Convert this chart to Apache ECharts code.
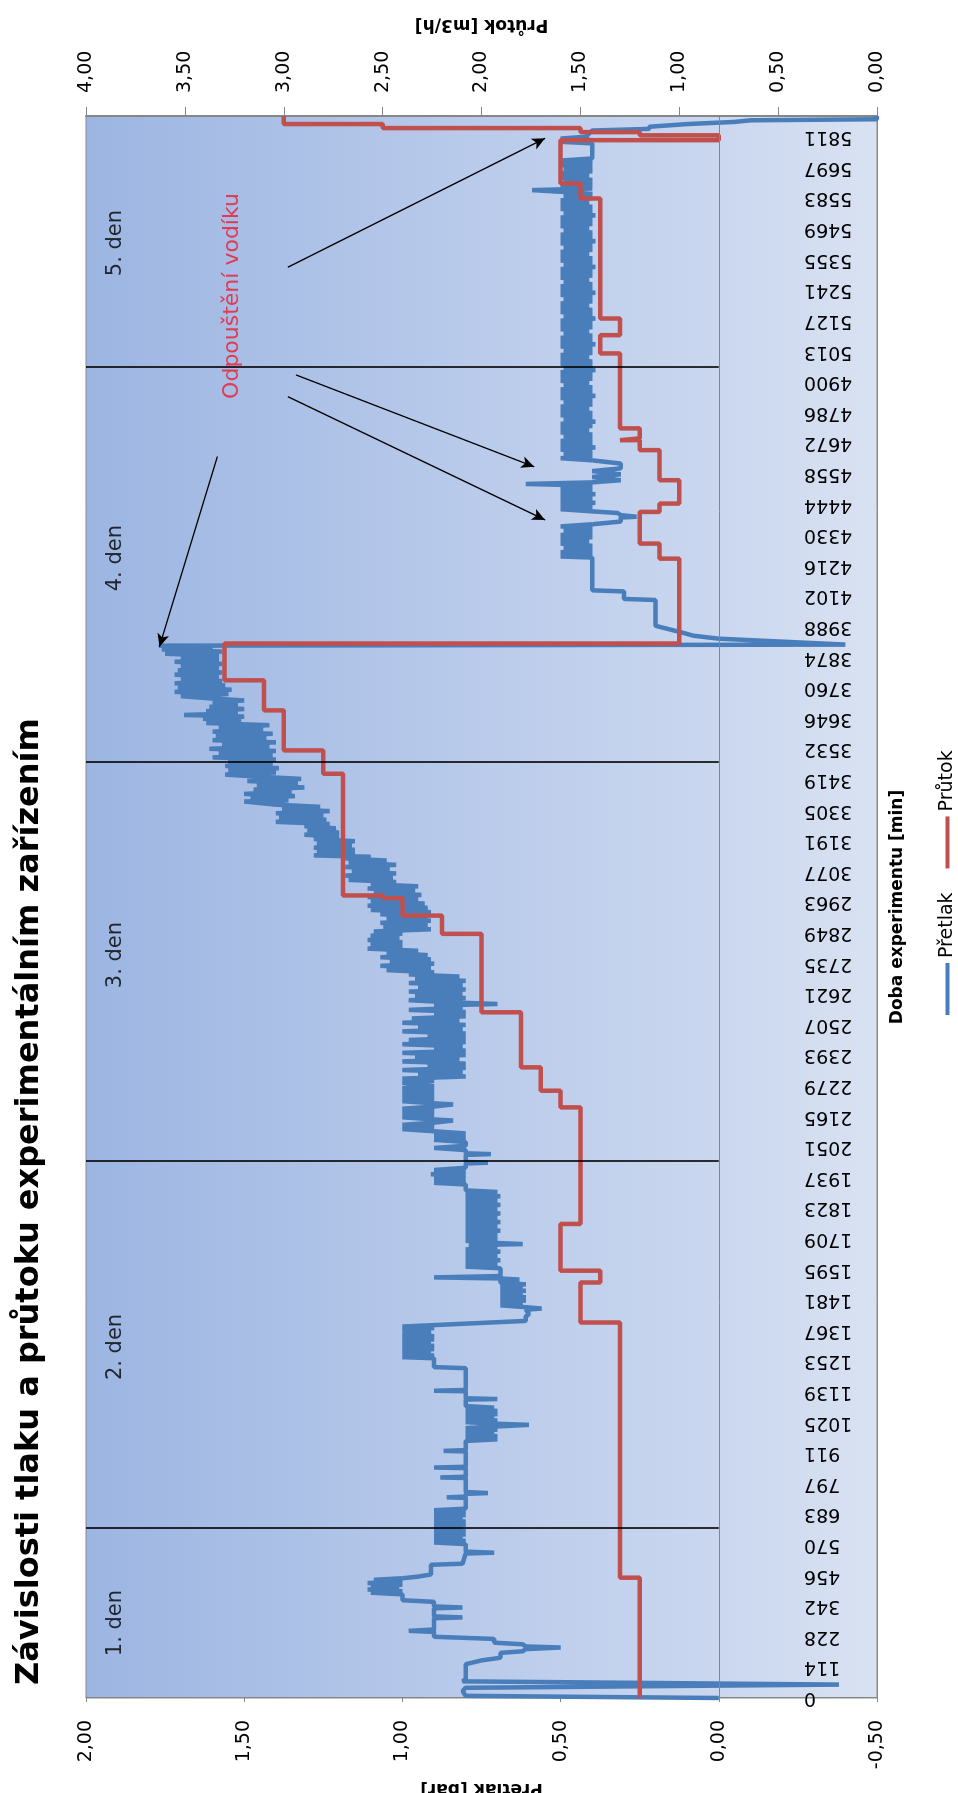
<!DOCTYPE html>
<html>
<head>
<meta charset="utf-8">
<script src="https://cdn.jsdelivr.net/npm/echarts/dist/echarts.min.js"></script>
<style>
html,body{margin:0;padding:0;background:#fff;overflow:hidden;width:958px;height:1793px;}
#chart{position:absolute;left:0;top:0;width:1793px;height:958px;transform-origin:0 0;transform:translateY(1793px) rotate(-90deg);}
</style>
</head>
<body>
<div id="chart"></div>
<script>
// ---- category tick labels (time, min) ----
const tickLabels = ['0','114','228','342','456','570','683','797','911','1025','1139','1253','1367','1481','1595','1709','1823','1937','2051','2165','2279','2393','2507','2621','2735','2849','2963','3077','3191','3305','3419','3532','3646','3760','3874','3988','4102','4216','4330','4444','4558','4672','4786','4900','5013','5127','5241','5355','5469','5583','5697','5811'];

// ---- Přetlak [bar], [time min, value] per day ----
const pretlakDay1 = [[0,0.00],[8,0.80],[26,0.81],[38,0.80],[50,-0.38],[62,0.81],[70,0.80],[126,0.80],[140,0.75],[150,0.69],[168,0.69],[174,0.62],[182,0.61],[188,0.50],[192,0.61],[200,0.62],[206,0.71],[220,0.71],[228,0.90],[246,0.90],[250,0.98],[255,0.90],[297,0.90],[300,0.81],[304,0.90],[334,0.90],[337,0.81],[341,0.90],[358,0.90],[364,1.00],[386,1.00],[392,1.10],[398,1.00],[404,1.11],[410,1.01],[416,1.10],[422,1.00],[428,1.11],[434,1.00],[440,1.09],[446,1.00],[452,0.95],[460,0.91],[496,0.91],[500,0.81],[538,0.80],[541,0.71],[545,0.80],[573,0.80],[579,0.90],[585,0.80],[591,0.90],[597,0.81],[603,0.90],[609,0.80],[615,0.90],[621,0.80],[627,0.90]];
const pretlakDay2 = [[633,0.81],[639,0.90],[645,0.80],[651,0.90],[657,0.80],[663,0.90],[669,0.81],[675,0.90],[681,0.80],[687,0.90],[693,0.80],[699,0.90],[705,0.80],[745,0.80],[747,0.86],[750,0.80],[760,0.80],[763,0.73],[767,0.80],[819,0.80],[821,0.88],[824,0.80],[856,0.80],[858,0.90],[861,0.80],[918,0.80],[920,0.87],[923,0.80],[957,0.80],[963,0.70],[969,0.80],[975,0.70],[981,0.80],[987,0.71],[993,0.80],[999,0.70],[1005,0.80],[1011,0.70],[1017,0.60],[1021,0.70],[1027,0.80],[1033,0.70],[1039,0.80],[1045,0.71],[1051,0.80],[1057,0.70],[1063,0.80],[1069,0.70],[1075,0.80],[1081,0.71],[1087,0.80],[1111,0.80],[1113,0.70],[1116,0.80],[1142,0.80],[1144,0.90],[1147,0.80],[1228,0.80],[1232,0.90],[1265,0.90],[1269,1.00],[1275,0.90],[1281,1.00],[1287,0.91],[1293,1.00],[1299,0.90],[1305,1.00],[1311,0.90],[1317,1.00],[1323,0.91],[1329,1.00],[1335,0.90],[1341,1.00],[1347,0.90],[1353,1.00],[1359,0.91],[1365,0.94],[1371,1.00],[1377,0.90],[1383,1.00],[1390,1.00],[1404,0.61],[1420,0.61],[1430,0.60],[1446,0.61],[1450,0.56],[1455,0.61],[1462,0.69],[1468,0.62],[1474,0.69],[1480,0.61],[1486,0.69],[1492,0.61],[1498,0.69],[1504,0.62],[1510,0.69],[1516,0.61],[1522,0.69],[1528,0.62],[1534,0.69],[1540,0.61],[1546,0.69],[1554,0.69],[1558,0.63],[1562,0.69],[1566,0.90],[1571,0.69],[1600,0.69],[1606,0.80],[1614,0.70],[1622,0.80],[1630,0.69],[1638,0.80],[1646,0.70],[1654,0.80],[1662,0.69],[1670,0.80],[1678,0.70],[1686,0.79],[1690,0.62],[1694,0.70],[1702,0.80],[1710,0.70],[1716,0.80],[1724,0.70],[1732,0.80],[1740,0.69],[1748,0.80],[1756,0.70],[1764,0.80],[1772,0.69],[1780,0.80],[1788,0.70],[1796,0.80],[1804,0.69],[1812,0.80],[1820,0.70],[1828,0.80],[1836,0.69],[1844,0.80],[1852,0.70],[1860,0.80],[1868,0.69],[1876,0.80],[1884,0.70],[1890,0.80],[1912,0.80],[1918,0.90],[1926,0.80],[1934,0.90],[1942,0.80],[1950,0.91],[1958,0.80],[1966,0.90],[1974,0.80],[1990,0.80],[1993,0.73],[1996,0.80]];
const pretlakDay3 = [[2022,0.80],[2025,0.72],[2028,0.80],[2040,0.80],[2048,0.90],[2056,0.80],[2070,0.80],[2078,0.90],[2086,0.80],[2094,0.90],[2102,0.80],[2110,0.90],[2118,1.00],[2126,0.90],[2134,1.00],[2142,0.90],[2150,0.84],[2154,0.90],[2162,1.00],[2170,0.90],[2178,1.00],[2186,0.90],[2194,1.00],[2202,0.90],[2210,0.84],[2214,0.90],[2222,1.00],[2230,0.90],[2238,1.00],[2246,0.90],[2254,1.00],[2262,0.90],[2270,1.00],[2278,0.90],[2290,1.00],[2298,0.90],[2306,1.00],[2314,0.80],[2322,0.95],[2330,0.81],[2338,1.00],[2346,0.80],[2354,0.92],[2362,0.80],[2370,1.00],[2378,0.82],[2386,0.96],[2394,0.80],[2402,1.00],[2410,0.80],[2418,0.90],[2426,0.81],[2434,1.00],[2442,0.80],[2450,0.98],[2458,0.80],[2466,0.92],[2474,0.80],[2482,1.00],[2490,0.81],[2498,0.95],[2506,0.80],[2514,1.00],[2522,0.82],[2530,0.97],[2538,0.80],[2546,0.90],[2554,0.80],[2562,0.98],[2570,0.81],[2578,0.90],[2584,0.70],[2590,0.85],[2598,0.98],[2606,0.80],[2614,0.96],[2622,0.81],[2630,0.98],[2638,0.80],[2646,0.95],[2654,0.81],[2662,0.98],[2670,0.80],[2678,0.96],[2686,0.82],[2694,0.98],[2702,0.90],[2710,1.05],[2718,0.91],[2726,1.07],[2734,0.90],[2742,1.04],[2750,0.91],[2758,1.07],[2766,0.92],[2774,1.05],[2782,0.95],[2790,1.11],[2798,1.00],[2806,1.10],[2814,1.00],[2822,1.11],[2830,1.01],[2838,1.10],[2846,1.00],[2854,1.09],[2862,0.91],[2870,1.06],[2878,0.92],[2886,1.07],[2894,0.91],[2902,1.05],[2910,0.92],[2918,1.07],[2926,0.91],[2934,1.10],[2942,0.92],[2950,1.11],[2958,0.93],[2966,1.10],[2974,0.95],[2982,1.11],[2990,0.94],[2998,1.09],[3006,0.96],[3014,1.11],[3022,0.95],[3030,1.10],[3038,1.02],[3046,1.17],[3054,1.03],[3062,1.18],[3070,1.02],[3078,1.16],[3086,1.04],[3094,1.18],[3102,1.02],[3110,1.17],[3118,1.05],[3126,1.18],[3132,1.10],[3137,1.28],[3142,1.15],[3150,1.27],[3158,1.15],[3166,1.28],[3174,1.16],[3182,1.27],[3190,1.15],[3198,1.28],[3206,1.20],[3214,1.31],[3222,1.20],[3230,1.30],[3238,1.21],[3246,1.31],[3254,1.23],[3262,1.40],[3270,1.24],[3278,1.39],[3286,1.25],[3294,1.40],[3302,1.23],[3310,1.38],[3318,1.26],[3326,1.40],[3338,1.50],[3342,1.36],[3350,1.48],[3358,1.34],[3366,1.50],[3374,1.35],[3382,1.47],[3390,1.31],[3398,1.46],[3406,1.33],[3414,1.49],[3422,1.32],[3430,1.45],[3438,1.56],[3446,1.40],[3454,1.55],[3462,1.39],[3470,1.56],[3478,1.41]];
const pretlakDay4 = [[3486,1.55],[3494,1.40],[3502,1.60],[3510,1.41],[3518,1.58],[3526,1.40],[3534,1.61],[3542,1.42],[3550,1.57],[3558,1.40],[3566,1.60],[3574,1.43],[3582,1.59],[3590,1.41],[3598,1.60],[3606,1.44],[3614,1.58],[3622,1.42],[3630,1.62],[3638,1.51],[3646,1.63],[3654,1.50],[3660,1.69],[3666,1.52],[3674,1.62],[3682,1.50],[3690,1.61],[3698,1.52],[3706,1.60],[3714,1.50],[3722,1.61],[3730,1.70],[3738,1.55],[3746,1.72],[3754,1.54],[3762,1.71],[3770,1.56],[3778,1.72],[3786,1.57],[3794,1.70],[3802,1.58],[3810,1.72],[3818,1.57],[3826,1.71],[3834,1.58],[3842,1.70],[3850,1.57],[3858,1.72],[3866,1.58],[3874,1.70],[3880,1.58],[3888,1.75],[3896,1.57],[3904,1.76],[3912,1.60],[3918,1.77],[3922,-0.40],[3944,0.00],[3955,0.08],[3968,0.12],[3992,0.20],[4088,0.20],[4092,0.30],[4120,0.30],[4124,0.40],[4246,0.40],[4250,0.50],[4258,0.40],[4266,0.50],[4274,0.40],[4282,0.49],[4290,0.40],[4298,0.50],[4306,0.41],[4314,0.50],[4322,0.40],[4330,0.50],[4338,0.40],[4346,0.49],[4354,0.40],[4362,0.50],[4370,0.40],[4380,0.31],[4395,0.31],[4398,0.26],[4404,0.31],[4412,0.32],[4418,0.40],[4426,0.50],[4434,0.40],[4442,0.50],[4450,0.39],[4458,0.50],[4466,0.40],[4474,0.50],[4482,0.39],[4490,0.50],[4498,0.40],[4506,0.50],[4514,0.40],[4520,0.61],[4526,0.40],[4534,0.31],[4546,0.40],[4556,0.31],[4568,0.40],[4578,0.31],[4596,0.31],[4608,0.40],[4616,0.50],[4624,0.40],[4632,0.49],[4640,0.40],[4648,0.50],[4656,0.39],[4664,0.50],[4672,0.40],[4680,0.50],[4688,0.40],[4696,0.49],[4704,0.40],[4712,0.50],[4720,0.41],[4728,0.50],[4736,0.40],[4744,0.50],[4752,0.39],[4760,0.49],[4768,0.40],[4776,0.50],[4784,0.40],[4792,0.50],[4800,0.41],[4808,0.50],[4816,0.40],[4824,0.49],[4832,0.40],[4840,0.50],[4848,0.39],[4856,0.50],[4864,0.40],[4872,0.50],[4880,0.40],[4888,0.49],[4896,0.41],[4904,0.50],[4912,0.40],[4920,0.50],[4928,0.40],[4936,0.50],[4944,0.39],[4952,0.49]];
const pretlakDay5 = [[4960,0.40],[4968,0.50],[4976,0.40],[4984,0.50],[4992,0.41],[5000,0.50],[5008,0.40],[5016,0.49],[5024,0.40],[5032,0.50],[5040,0.39],[5048,0.50],[5056,0.40],[5064,0.50],[5072,0.40],[5080,0.49],[5088,0.41],[5096,0.50],[5104,0.40],[5112,0.50],[5120,0.40],[5128,0.50],[5136,0.39],[5144,0.49],[5152,0.40],[5160,0.50],[5168,0.40],[5176,0.50],[5184,0.41],[5192,0.50],[5200,0.40],[5208,0.49],[5216,0.40],[5224,0.50],[5232,0.39],[5240,0.50],[5248,0.40],[5256,0.50],[5264,0.40],[5272,0.49],[5280,0.41],[5288,0.50],[5296,0.40],[5304,0.50],[5312,0.40],[5320,0.50],[5328,0.39],[5336,0.49],[5344,0.40],[5352,0.50],[5360,0.40],[5368,0.50],[5376,0.41],[5384,0.50],[5392,0.40],[5400,0.49],[5408,0.40],[5416,0.50],[5424,0.39],[5432,0.50],[5440,0.40],[5448,0.50],[5456,0.40],[5464,0.49],[5472,0.41],[5480,0.50],[5488,0.40],[5496,0.50],[5504,0.40],[5512,0.50],[5520,0.39],[5528,0.49],[5536,0.40],[5544,0.50],[5552,0.40],[5560,0.50],[5568,0.41],[5576,0.50],[5584,0.40],[5592,0.49],[5600,0.40],[5608,0.50],[5614,0.59],[5620,0.40],[5628,0.50],[5636,0.40],[5644,0.49],[5652,0.40],[5660,0.50],[5668,0.41],[5676,0.50],[5684,0.40],[5692,0.49],[5700,0.40],[5708,0.50],[5716,0.40],[5724,0.50],[5732,0.40],[5788,0.40],[5794,0.50],[5800,0.40],[5806,0.50],[5813,0.42],[5836,0.40],[5842,0.22],[5850,0.22],[5860,0.10],[5868,-0.05],[5874,-0.10],[5878,-0.50],[5890,-0.50]];

// ---- Průtok [m3/h], step changes [time min, value] ----
const prutok = [[0,1.2],[448,1.3],[1398,1.5],[1547,1.4],[1591,1.6],[1765,1.5],[2199,1.6],[2261,1.7],[2348,1.8],[2553,2.0],[2845,2.2],[2913,2.4],[2978,2.5],[2988,2.7],[3441,2.8],[3528,3.0],[3677,3.1],[3789,3.3],[3926,1.0],[4242,1.1],[4298,1.2],[4416,1.1],[4447,1.0],[4534,1.1],[4646,1.2],[4683,1.3],[4690,1.2],[4727,1.3],[5006,1.4],[5074,1.3],[5136,1.4],[5583,1.5],[5639,1.6],[5800,0.8],[5818,1.2],[5830,1.5],[5845,2.5],[5860,3.0],[5890,3.0]];

// ---- annotations ----
const dayBoundaries = [633, 1999, 3485, 4956];
const dayNames = ['1. den','2. den','3. den','4. den','5. den'];
const dayLabelTimes = [279, 1307, 2766, 4244, 5417];
const noteText = 'Odpouštění vodíku';
const notePoint = [5220, 1.537];
const arrows = [
  [[5327,1.362],[5807,0.549]],
  [[4926,1.336],[4584,0.583]],
  [[4845,1.362],[4386,0.549]],
  [[4622,1.585],[3914,1.768]]
];

const pretlak = [].concat(pretlakDay1, pretlakDay2, pretlakDay3, pretlakDay4, pretlakDay5);
const tickStep = Number(tickLabels[tickLabels.length - 1]) / (tickLabels.length - 1);
const xMax = 5890;
const FONT = 'DejaVu Sans';
const comma = v => v.toFixed(2).replace('.', ',');

const chart = echarts.init(document.getElementById('chart'), null, {renderer: 'canvas', width: 1793, height: 958});

const annotData = dayNames.map((n, i) => ({
  name: n, value: [dayLabelTimes[i], 1.907],
  label: {color: '#000', fontSize: 21, fontFamily: FONT}
}));
annotData.push({name: noteText, value: notePoint, label: {color: '#ee1c2e', fontSize: 22, fontFamily: FONT}});

const markLines = [[
  {coord: [0, 0], symbol: 'none', lineStyle: {color: '#868686', width: 1, type: 'solid'}},
  {coord: [xMax, 0], symbol: 'none'}
]].concat(dayBoundaries.map(t => [
  {coord: [t, 2.0], symbol: 'none', lineStyle: {color: '#000', width: 1.6, type: 'solid'}},
  {coord: [t, 0], symbol: 'none'}
])).concat(arrows.map(a => [
  {coord: a[0], symbol: 'none', lineStyle: {color: '#000', width: 1.3, type: 'solid'}},
  {coord: a[1], symbol: 'arrow', symbolSize: [9, 13]}
]));

chart.setOption({
  animation: false,
  backgroundColor: '#fff',
  textStyle: {fontFamily: FONT},
  title: {
    text: 'Závislosti tlaku a průtoku experimentálním zařízením',
    left: 103, top: 9,
    textStyle: {fontFamily: FONT, fontWeight: 'bold', fontSize: 32, color: '#000'}
  },
  legend: {
    data: ['Přetlak', 'Průtok'],
    left: 773, top: 933,
    icon: 'rect', itemWidth: 52, itemHeight: 4, itemGap: 24,
    textStyle: {fontFamily: FONT, fontSize: 19, color: '#000'}
  },
  grid: {
    left: 95, right: 116, top: 86, bottom: 81,
    outerBoundsMode: 'none',
    show: true, borderColor: '#8a8a8a', borderWidth: 1,
    backgroundColor: {
      type: 'linear', x: 0, y: 0, x2: 0, y2: 1,
      colorStops: [
        {offset: 0, color: '#9cb5e2'},
        {offset: 0.45, color: '#b7c9ea'},
        {offset: 0.8, color: '#cad7ef'},
        {offset: 1, color: '#d9e2f2'}
      ]
    }
  },
  xAxis: {
    type: 'value', min: 0, max: xMax, interval: tickStep, position: 'bottom',
    axisLine: {show: true, onZero: false, lineStyle: {color: '#8a8a8a', width: 1}},
    axisTick: {show: false},
    splitLine: {show: false},
    axisLabel: {
      show: true, rotate: 90, margin: -73, fontSize: 19, fontFamily: FONT, color: '#000',
      showMinLabel: true, showMaxLabel: false, hideOverlap: false,
      formatter: function (v) {
        const k = Math.round(v / tickStep);
        return (Math.abs(v - k * tickStep) < 1 && k >= 0 && k < tickLabels.length) ? tickLabels[k] : '';
      }
    },
    name: 'Doba experimentu [min]', nameLocation: 'middle', nameGap: 12,
    nameTextStyle: {fontFamily: FONT, fontWeight: 'bold', fontSize: 17, color: '#000', verticalAlign: 'top'}
  },
  yAxis: [
    {
      type: 'value', position: 'left', min: -0.5, max: 2, interval: 0.5,
      axisLine: {show: true, lineStyle: {color: '#868686', width: 1}},
      axisTick: {show: true, length: 4, lineStyle: {color: '#868686'}},
      splitLine: {show: false},
      axisLabel: {margin: 22, fontSize: 19, fontFamily: FONT, color: '#000', formatter: comma},
      name: 'Přetlak [bar]', nameLocation: 'middle', nameGap: 74,
      nameTextStyle: {fontFamily: FONT, fontWeight: 'bold', fontSize: 17, color: '#000'}
    },
    {
      type: 'value', position: 'right', min: 0, max: 4, interval: 0.5,
      axisLine: {show: true, lineStyle: {color: '#868686', width: 2}},
      axisTick: {show: true, length: 9, lineStyle: {color: '#868686'}},
      splitLine: {show: false},
      axisLabel: {margin: 23, fontSize: 19, fontFamily: FONT, color: '#000', formatter: comma},
      name: 'Průtok [m3/h]', nameLocation: 'middle', nameGap: 83,
      nameTextStyle: {fontFamily: FONT, fontWeight: 'bold', fontSize: 17, color: '#000'}
    }
  ],
  series: [
    {
      name: 'Přetlak', type: 'line', xAxisIndex: 0, yAxisIndex: 0,
      data: pretlak, symbol: 'none', showSymbol: false,
      lineStyle: {color: '#4a7ebb', width: 4.5}, itemStyle: {color: '#4a7ebb'}, z: 2
    },
    {
      name: 'Průtok', type: 'line', xAxisIndex: 0, yAxisIndex: 1, step: 'end',
      data: prutok, symbol: 'none', showSymbol: false,
      lineStyle: {color: '#c0504d', width: 4.5}, itemStyle: {color: '#c0504d'}, z: 3
    },
    {
      name: 'annot', type: 'scatter', xAxisIndex: 0, yAxisIndex: 0,
      data: annotData, symbolSize: 0, silent: true, z: 5,
      label: {show: true, position: 'inside', formatter: '{b}'},
      markLine: {silent: true, animation: false, label: {show: false}, data: markLines}
    }
  ]
});
</script>
</body>
</html>
